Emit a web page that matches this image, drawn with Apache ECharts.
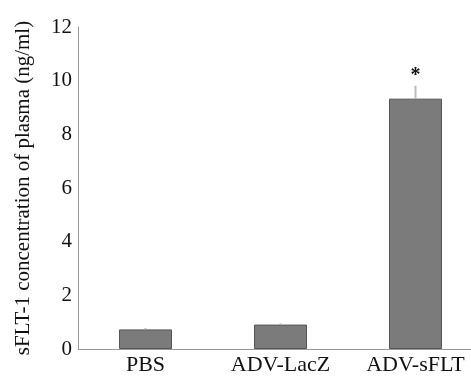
<!DOCTYPE html>
<html>
<head>
<meta charset="utf-8">
<script src="https://cdn.jsdelivr.net/npm/echarts@6/dist/echarts.min.js"></script>
<style>html,body{margin:0;padding:0;background:#fff;overflow:hidden;}#c{width:471px;height:376px;}</style>
</head>
<body>
<div id="c"></div>
<script>
var categories = ['PBS', 'ADV-LacZ', 'ADV-sFLT'];
var means = [0.73, 0.91, 9.33];
var errUpper = [0.78, 0.96, 9.81];
var marks = ['', '', '*'];
var yTicks = [0, 2, 4, 6, 8, 10, 12];

var chart = echarts.init(document.getElementById('c'));
var font = '"Liberation Serif", "Times New Roman", serif';
chart.setOption({
  animation: false,
  grid: { left: 78, width: 405, top: 27, bottom: 27, containLabel: false, outerBoundsMode: 'none' },
  xAxis: {
    type: 'category', data: categories,
    axisLine: { lineStyle: { color: '#999', width: 1 } },
    axisTick: { show: false },
    axisLabel: { color: '#111', fontFamily: font, fontSize: 22, margin: 5, interval: 0, hideOverlap: false }
  },
  yAxis: {
    type: 'value', min: 0, max: 12, interval: 2,
    name: 'sFLT-1 concentration of plasma (ng/ml)',
    nameLocation: 'middle', nameGap: 44, nameRotate: 90,
    nameTextStyle: { color: '#111', fontFamily: font, fontSize: 21 },
    axisLine: { show: true, lineStyle: { color: '#999', width: 1 } },
    axisTick: { show: false },
    splitLine: { show: false },
    axisLabel: { color: '#111', fontFamily: font, fontSize: 21, margin: 6,
      formatter: function (v) { return yTicks.indexOf(v) >= 0 ? String(v) : ''; } }
  },
  series: [
    {
      type: 'bar', data: means, barWidth: 53,
      itemStyle: { color: '#7b7b7b', borderColor: '#555', borderWidth: 1 }
    },
    {
      type: 'custom',
      data: categories.map(function (c, i) { return [i, means[i], errUpper[i]]; }),
      renderItem: function (params, api) {
        var i = api.value(0);
        var p0 = api.coord([i, api.value(1)]);
        var p1 = api.coord([i, api.value(2)]);
        var children = [{
          type: 'line',
          shape: { x1: p0[0], y1: p0[1], x2: p1[0], y2: p1[1] },
          style: { stroke: '#bbb', lineWidth: 2 }
        }];
        if (marks[i]) {
          children.push({
            type: 'text',
            style: { text: marks[i], x: p1[0], y: p1[1] - 10, align: 'center', verticalAlign: 'middle',
              fill: '#111', font: 'bold 20px ' + font }
          });
        }
        return { type: 'group', children: children };
      },
      z: 5
    }
  ]
});
</script>
</body>
</html>
